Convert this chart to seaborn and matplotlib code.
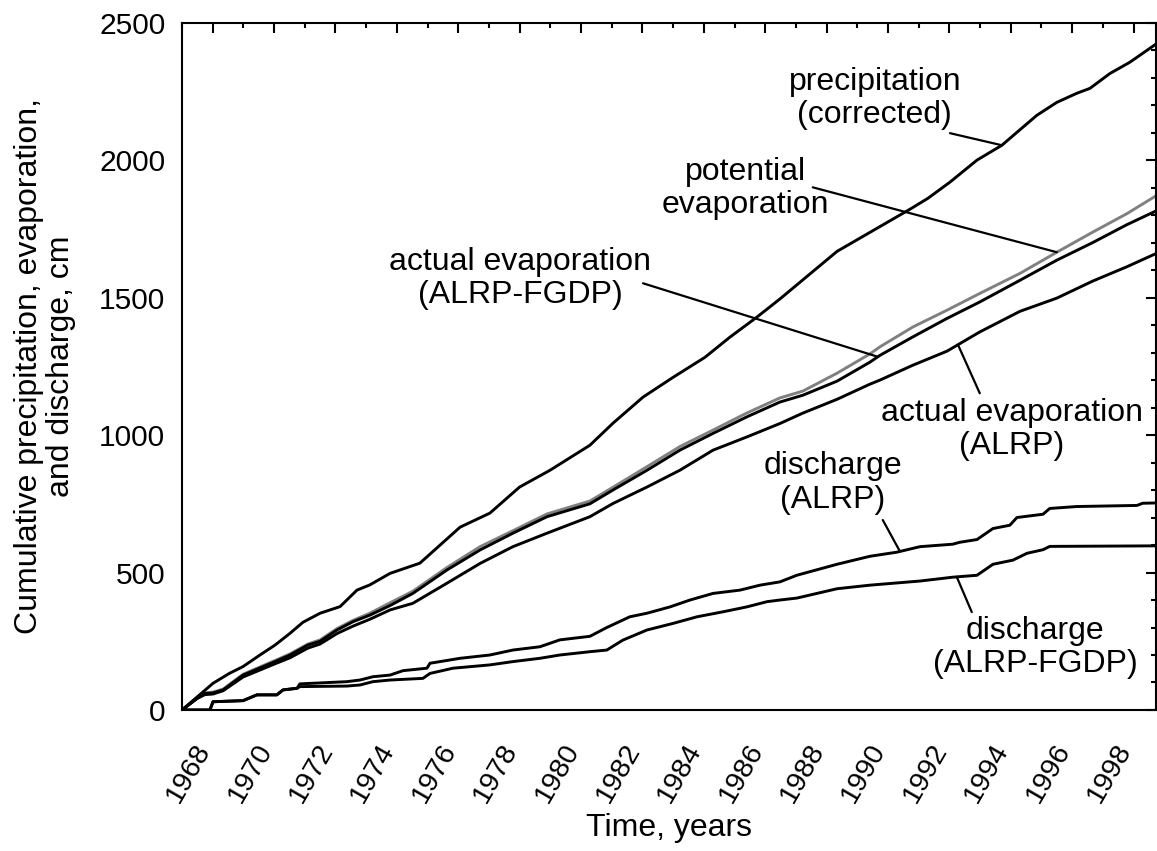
import numpy as np
import pandas as pd
import matplotlib
matplotlib.use("Agg")
import matplotlib.pyplot as plt
import matplotlib.transforms as mtransforms
from matplotlib.ticker import MultipleLocator, FixedLocator
import seaborn as sns

# ---- cumulative series (decimal year, cm) ----
precip_year = [1967.00, 1968.01, 1968.54, 1968.99, 1969.54, 1970.03, 1970.52, 1970.94,
               1971.50, 1972.15, 1972.70, 1973.12, 1973.78, 1974.75, 1976.06, 1977.03,
               1978.00, 1978.99, 1980.29, 1981.04, 1982.02, 1983.00, 1984.04, 1984.85,
               1985.73, 1986.48, 1988.34, 1990.71, 1991.30, 1992.02, 1992.90, 1993.71,
               1994.20, 1994.85, 1995.50, 1996.15, 1996.58, 1997.23, 1997.88, 1998.73]
precip_cm = [0, 97, 133, 158, 200, 236, 279, 319,
             352, 376, 436, 455, 497, 534, 665, 716,
             811, 872, 963, 1043, 1138, 1210, 1283, 1356,
             1429, 1495, 1668, 1821, 1861, 1920, 2000, 2054,
             2101, 2163, 2210, 2243, 2261, 2315, 2356, 2422]

evap_year = [1967.00, 1967.49, 1967.75, 1968.01, 1968.34, 1968.99, 1970.03, 1970.52,
             1971.10, 1971.50, 1972.05, 1972.57, 1973.12, 1973.78, 1974.52, 1975.63,
             1976.71, 1977.78, 1978.89, 1980.29, 1981.04, 1982.15, 1983.22, 1984.30,
             1985.40, 1986.48, 1987.23, 1988.34, 1989.41, 1989.74, 1990.81, 1991.92,
             1992.99, 1994.30, 1995.50, 1996.67, 1997.78, 1998.73]
pet_cm = [0, 44, 62, 65, 76, 130, 180, 204,
          240, 255, 296, 326, 352, 390, 432, 518,
          594, 652, 713, 760, 810, 885, 958, 1018,
          1080, 1135, 1160, 1225, 1295, 1321, 1393, 1454,
          1515, 1588, 1665, 1738, 1805, 1870]
aet_fgdp_cm = [0, 42, 60, 62, 73, 127, 176, 200,
               236, 250, 291, 321, 345, 380, 424, 509,
               582, 643, 703, 750, 800, 872, 945, 1006,
               1066, 1120, 1145, 1196, 1265, 1290, 1357, 1424,
               1484, 1563, 1636, 1700, 1765, 1815]
aet_alrp_cm = [0, 42, 56, 58, 70, 120, 168, 190,
               225, 240, 278, 305, 330, 364, 388, 461,
               533, 594, 643, 703, 751, 811, 872, 945,
               993, 1042, 1080, 1130, 1185, 1200, 1254, 1305,
               1375, 1450, 1498, 1560, 1612, 1660]

q_alrp_year = [1967.00, 1967.91, 1968.01, 1968.99, 1969.44, 1970.09, 1970.29, 1970.75,
               1970.84, 1972.37, 1972.80, 1973.22, 1973.78, 1974.20, 1974.98, 1975.08,
               1976.06, 1977.03, 1977.78, 1978.66, 1979.31, 1980.29, 1980.84, 1981.59,
               1982.15, 1982.90, 1983.55, 1984.30, 1985.18, 1985.83, 1986.48, 1987.03,
               1988.34, 1989.41, 1990.29, 1991.04, 1992.11, 1992.34, 1992.90, 1993.42,
               1993.97, 1994.20, 1995.05, 1995.27, 1996.15, 1998.11, 1998.30, 1998.73]
q_alrp_cm = [0, 0, 30, 34, 55, 55, 73, 79,
             95, 103, 109, 121, 127, 143, 152, 170,
             188, 200, 218, 230, 255, 268, 300, 339,
             352, 375, 400, 424, 436, 454, 466, 490,
             530, 559, 574, 594, 603, 610, 620, 660,
             672, 700, 712, 733, 740, 744, 752, 753]

q_fgdp_year = [1967.00, 1967.91, 1968.01, 1968.99, 1969.44, 1970.09, 1970.29, 1970.75,
               1970.84, 1972.37, 1972.80, 1973.22, 1973.78, 1974.85, 1975.08, 1975.83,
               1977.03, 1977.78, 1978.66, 1979.31, 1980.29, 1980.84, 1981.36, 1982.15,
               1983.00, 1983.78, 1984.62, 1985.40, 1986.06, 1986.48, 1987.03, 1988.34,
               1989.41, 1991.04, 1992.11, 1992.90, 1993.42, 1994.07, 1994.53, 1995.05,
               1995.27, 1998.73]
q_fgdp_cm = [0, 0, 30, 34, 55, 55, 73, 79,
             85, 87, 91, 103, 109, 115, 133, 152,
             164, 176, 188, 200, 212, 218, 254, 291,
             315, 339, 357, 375, 394, 400, 407, 441,
             454, 469, 483, 490, 530, 545, 570, 583,
             595, 597]

year_ticks = list(range(1968, 1999, 2))
cm_ticks = [0, 500, 1000, 1500, 2000, 2500]

# ---- style ----
sns.set_theme(style="white")
plt.rcParams["font.family"] = ["Liberation Sans", "DejaVu Sans"]
plt.rcParams["axes.linewidth"] = 1.5

fig = plt.figure(figsize=(11.57, 8.51), dpi=100)
ax = fig.add_axes([0.1573, 0.1657, 0.8418, 0.8077])

BLACK = "#000000"
GREY = "#808080"
LW = 2.1

sns.lineplot(x=evap_year, y=pet_cm, ax=ax, color=GREY, lw=LW, estimator=None, sort=False)
sns.lineplot(x=evap_year, y=aet_fgdp_cm, ax=ax, color=BLACK, lw=LW, estimator=None, sort=False)
sns.lineplot(x=evap_year, y=aet_alrp_cm, ax=ax, color=BLACK, lw=LW, estimator=None, sort=False)
sns.lineplot(x=precip_year, y=precip_cm, ax=ax, color=BLACK, lw=LW, estimator=None, sort=False)
sns.lineplot(x=q_alrp_year, y=q_alrp_cm, ax=ax, color=BLACK, lw=LW, estimator=None, sort=False)
sns.lineplot(x=q_fgdp_year, y=q_fgdp_cm, ax=ax, color=BLACK, lw=LW, estimator=None, sort=False)

ax.set_xlim(1967.0, 1998.73)
ax.set_ylim(0, 2500)

ax.xaxis.set_major_locator(FixedLocator(year_ticks))
ax.xaxis.set_minor_locator(MultipleLocator(1))
ax.yaxis.set_major_locator(FixedLocator(cm_ticks))
ax.yaxis.set_minor_locator(MultipleLocator(100))
ax.set_xticklabels([str(y) for y in year_ticks])
ax.set_yticklabels([str(v) for v in cm_ticks])

ax.tick_params(which="both", direction="in", top=True, right=True, width=1.5, colors=BLACK)
ax.tick_params(which="major", length=7.2)
ax.tick_params(which="minor", length=3.6)
ax.tick_params(axis="y", which="major", labelsize=21.5, pad=12)
ax.tick_params(axis="x", which="major", labelsize=20.5, pad=26)

shift = mtransforms.ScaledTranslation(-8 / 100, 0, fig.dpi_scale_trans)
for lab in ax.get_xticklabels():
    lab.set_rotation(60)
    lab.set_ha("right")
    lab.set_va("center")
    lab.set_rotation_mode("anchor")
    lab.set_transform(lab.get_transform() + shift)

for sp in ax.spines.values():
    sp.set_color(BLACK)
    sp.set_linewidth(1.5)

ax.set_xlabel("Time, years", fontsize=23, color=BLACK)
ax.xaxis.set_label_coords(0.5, -0.172)
ax.xaxis.label.set_va("center")
ax.set_ylabel("Cumulative precipitation, evaporation,\nand discharge, cm", fontsize=23,
              color=BLACK, linespacing=1.1)
ax.yaxis.set_label_coords(-0.141, 0.5)
ax.yaxis.label.set_va("center")

# ---- labels with leader lines ----
FS = 23


def label(text, txy, start, years, values, at_year):
    ax.text(txy[0], txy[1], text, fontsize=FS, ha="center", va="center",
            color=BLACK, linespacing=1.15)
    end = (at_year, float(np.interp(at_year, years, values)))
    ax.annotate("", xy=end, xytext=start,
                arrowprops=dict(arrowstyle="-", lw=1.6, color=BLACK,
                                shrinkA=0, shrinkB=0))


label("precipitation\n(corrected)", (1989.57, 2225), (1992.02, 2098),
      precip_year, precip_cm, 1993.71)
label("potential\nevaporation", (1985.37, 1896), (1987.55, 1901),
      evap_year, pet_cm, 1995.50)
label("actual evaporation\n(ALRP-FGDP)", (1978.01, 1569), (1982.02, 1552),
      evap_year, aet_fgdp_cm, 1989.67)
label("actual evaporation\n(ALRP)", (1994.04, 1021), (1992.99, 1152),
      evap_year, aet_alrp_cm, 1992.28)
label("discharge\n(ALRP)", (1988.21, 825), (1989.83, 691),
      q_alrp_year, q_alrp_cm, 1990.39)
label("discharge\n(ALRP-FGDP)", (1994.79, 227), (1992.73, 356),
      q_fgdp_year, q_fgdp_cm, 1992.24)

fig.savefig("out.png", dpi=100, facecolor="white")
